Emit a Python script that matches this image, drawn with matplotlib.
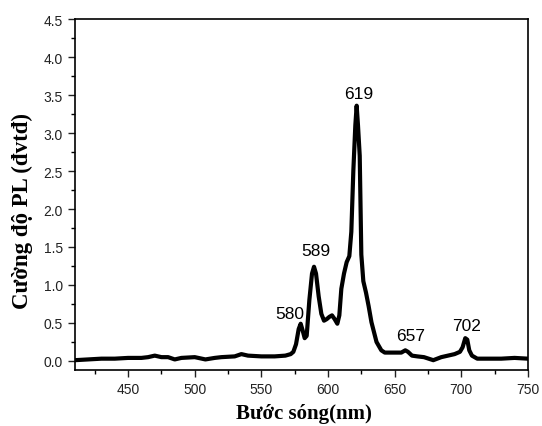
import matplotlib
matplotlib.use("Agg")
import matplotlib.pyplot as plt
from matplotlib.ticker import MultipleLocator, FormatStrFormatter

wavelength = [410, 420, 430, 440, 450, 460, 465, 470, 475, 480, 485, 490, 500, 508, 515,
              520, 530, 535, 540, 550, 560, 568, 572, 574, 576, 578, 579.5, 581, 582.5,
              584, 586, 588, 589.5, 591, 593, 595, 597, 599, 601, 603, 605, 607, 608.5,
              610, 612, 614, 616, 617.5, 619, 620.5, 621.5, 622.5, 623.8, 625, 626.5,
              628.5, 630.5, 632.6, 636.4, 640, 642.6, 650, 655, 658, 660, 663, 667, 672,
              679, 685, 690, 695, 699, 701, 703, 704.5, 706, 708, 712, 720, 730, 740, 750]
intensity = [0.01, 0.02, 0.03, 0.03, 0.04, 0.04, 0.05, 0.07, 0.05, 0.05, 0.02, 0.04, 0.05,
             0.02, 0.04, 0.05, 0.06, 0.09, 0.07, 0.06, 0.06, 0.07, 0.09, 0.12, 0.22, 0.42,
             0.49, 0.40, 0.30, 0.33, 0.80, 1.15, 1.24, 1.15, 0.85, 0.62, 0.53, 0.55, 0.58,
             0.60, 0.55, 0.49, 0.60, 0.95, 1.15, 1.30, 1.38, 1.70, 2.50, 3.10, 3.36, 3.10,
             2.70, 1.40, 1.05, 0.90, 0.72, 0.51, 0.25, 0.14, 0.11, 0.11, 0.11, 0.14, 0.12,
             0.07, 0.06, 0.05, 0.01, 0.05, 0.07, 0.09, 0.12, 0.18, 0.30, 0.28, 0.14, 0.07,
             0.03, 0.03, 0.03, 0.04, 0.03]

peak_labels = ["580", "589", "619", "657", "702"]
label_x = [571.3, 590.8, 623.0, 662.0, 703.8]
label_y = [0.63, 1.45, 3.52, 0.33, 0.47]

fig = plt.figure(figsize=(5.42, 4.27), dpi=100)
ax = fig.add_axes([0.138, 0.131, 0.836, 0.822])
ax.plot(wavelength, intensity, color="black", lw=3.0, solid_joinstyle="round")

for t, x, y in zip(peak_labels, label_x, label_y):
    ax.text(x, y, t, ha="center", va="center", fontsize=12.5, family="Liberation Sans")

ax.set_xlim(410, 750)
ax.set_ylim(-0.12, 4.5)
ax.xaxis.set_major_locator(MultipleLocator(50))
ax.xaxis.set_minor_locator(MultipleLocator(25))
ax.yaxis.set_major_locator(MultipleLocator(0.5))
ax.yaxis.set_minor_locator(MultipleLocator(0.25))
ax.set_xticks([450, 500, 550, 600, 650, 700, 750])
ax.tick_params(which="both", direction="out", top=False, right=False, width=1.0)
ax.tick_params(which="major", length=5, labelsize=10, colors="#222222")
ax.tick_params(which="minor", length=3)
for lab in ax.get_xticklabels() + ax.get_yticklabels():
    lab.set_family("Liberation Sans")
ax.yaxis.set_major_formatter(FormatStrFormatter("%.1f"))
for s in ax.spines.values():
    s.set_linewidth(1.2)

ax.set_xlabel("Bước sóng(nm)", fontsize=15, fontweight="bold", family="Liberation Serif")
ax.set_ylabel("Cường độ PL (đvtđ)", fontsize=16.5, fontweight="bold", family="Liberation Serif")
ax.xaxis.set_label_coords(0.505, -0.095)
ax.yaxis.set_label_coords(-0.093, 0.456)

fig.savefig("out.png", dpi=100)
